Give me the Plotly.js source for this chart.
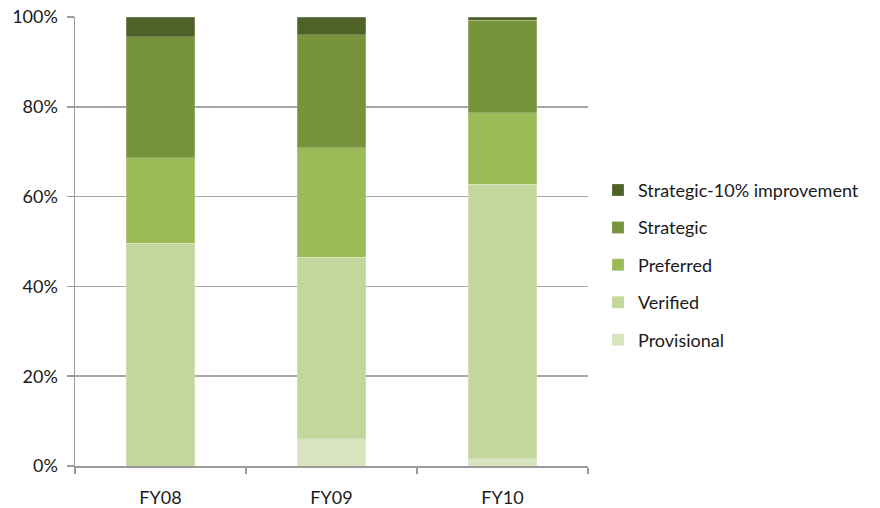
<!DOCTYPE html>
<html><head><meta charset="utf-8">
<script src="https://cdn.plot.ly/plotly-3.0.1.min.js"></script>
<style>body{margin:0;background:#fff}#c{width:880px;height:508px}</style>
</head><body><div id="c"></div>
<script>
var categories = ["FY08", "FY09", "FY10"];
var seriesNames = ["Provisional", "Verified", "Preferred", "Strategic", "Strategic-10% improvement"];
var provisional = [0, 6.1, 1.6];
var verified = [49.6, 40.4, 61.2];
var preferred = [19.0, 24.4, 15.9];
var strategic = [27.0, 25.1, 20.55];
var strategic10 = [4.4, 4.0, 0.75];
var yTickVals = [0, 20, 40, 60, 80, 100];
var yTickText = ["0%", "20%", "40%", "60%", "80%", "100%"];
var colors = ["#d7e4bd", "#c3d69b", "#9bbb59", "#77933c", "#4f6228"];

var values = [provisional, verified, preferred, strategic, strategic10];
var traces = values.map(function(v, i){
  return {type: "bar", x: categories, y: v, name: seriesNames[i], legendgroup: "g" + i,
    legendrank: 1000 - i * 10,
    marker: {color: colors[i], line: {width: 0.6, color: "rgba(255,255,255,0.35)"}},
    hoverinfo: "skip"};
});
var fam = "Lato, 'Open Sans', sans-serif";
var layout = {
  width: 880, height: 508,
  margin: {l: 75, r: 292, t: 17, b: 42},
  barmode: "stack", bargap: 0.6,
  paper_bgcolor: "#fff", plot_bgcolor: "#fff",
  font: {family: fam, size: 16, color: "#1a1a1a"},
  showlegend: true,
  legend: {x: 1.0195, y: 0.448, xanchor: "left", yanchor: "middle", traceorder: "grouped",
    tracegroupgap: 11, font: {family: fam, size: 18, color: "#1a1a1a"}, itemwidth: 30},
  xaxis: {showgrid: false, showline: true, linecolor: "#9a9a9a", linewidth: 1.5,
    ticks: "outside", tickson: "boundaries", ticklen: 6, tickcolor: "#9a9a9a", tickwidth: 1.5,
    ticklabelstandoff: 15, tickfont: {family: fam, size: 18, color: "#1a1a1a"}, fixedrange: true},
  yaxis: {range: [0, 100], tickvals: yTickVals, ticktext: yTickText, showgrid: true,
    gridcolor: "#a6a6a6", gridwidth: 1.5, showline: true, linecolor: "#9a9a9a", linewidth: 1.5,
    ticks: "outside", ticklen: 7, tickcolor: "#9a9a9a", tickwidth: 1.5, zeroline: false,
    ticklabelstandoff: 5, tickfont: {family: fam, size: 18, color: "#1a1a1a"}, fixedrange: true}
};
Plotly.newPlot("c", traces, layout, {staticPlot: true, displayModeBar: false});
</script></body></html>
